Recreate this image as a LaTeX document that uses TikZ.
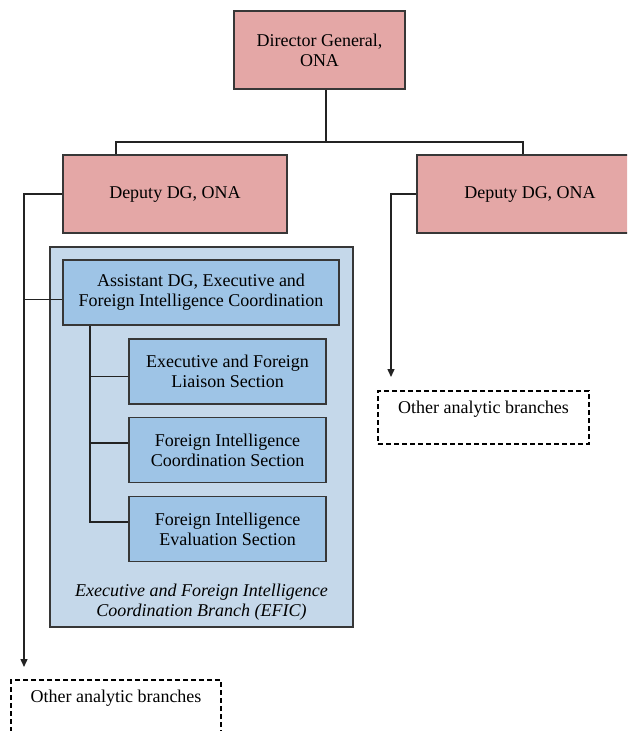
\documentclass[tikz,border=0pt]{standalone}
\usepackage{fontspec}
\setmainfont{Liberation Serif}
\usetikzlibrary{arrows.meta}

\definecolor{dgpink}{RGB}{228,167,166}
\definecolor{secblue}{RGB}{158,196,230}
\definecolor{branchpale}{RGB}{197,216,234}
\definecolor{edgegray}{RGB}{55,55,55}
\definecolor{linegray}{RGB}{35,35,35}

\begin{document}
\begin{tikzpicture}[x=1pt, y=-1pt, line width=1.4pt, line join=miter,
  orgbox/.style={draw=edgegray, line width=1.7pt, inner sep=0pt, align=center,
                 font=\fontsize{18}{20}\selectfont},
  dgbox/.style={orgbox, fill=dgpink},
  secbox/.style={orgbox, fill=secblue, minimum width=197pt, minimum height=65pt},
  otherbox/.style={draw=black, line width=1.2pt, dash pattern=on 5pt off 3pt,
                   inner sep=0pt, minimum width=210pt, text height=22pt, text depth=31pt,
                   font=\fontsize{18}{20}\selectfont}]
  % 箭头头: 实测 宽 7、长 8
  \def\arr{-{Triangle[width=7pt,length=8pt]}}

  % 钉死画布（右侧副局长框与左下虚线框被画布截断）
  \useasboundingbox (0,0) rectangle (627,731);
  \clip (0,0) rectangle (627,731);

  % ════ 局长 / 两位副局长 ════
  \node[dgbox, minimum width=171pt, minimum height=78pt] (dg)   at (319.5,50) {Director General,\\ONA};
  \node[dgbox, minimum width=224pt, minimum height=78pt] (ldep) at (175,194)  {Deputy DG, ONA};
  \node[dgbox, minimum width=226pt, minimum height=78pt] (rdep) at (530,194)  {Deputy DG, ONA};

  % ════ EFIC 分支（浅蓝底框 + 助理局长 + 三个科）════
  \node[orgbox, fill=branchpale, minimum width=303pt, minimum height=380pt] (efic) at (201.5,437) {};
  \node[secbox, minimum width=276pt] (asst)    at (201,292.5)   {Assistant DG, Executive and\\Foreign Intelligence Coordination};
  \node[secbox]                      (exec)    at (227.5,371.5) {Executive and Foreign\\Liaison Section};
  \node[secbox]                      (ficoord) at (227.5,450)   {Foreign Intelligence\\Coordination Section};
  \node[secbox]                      (fieval)  at (227.5,529)   {Foreign Intelligence\\Evaluation Section};
  \node[align=center, inner sep=0pt, font=\itshape\fontsize{18}{20}\selectfont] (eficname) at (201.5,602)
    {Executive and Foreign Intelligence\\Coordination Branch (EFIC)};

  % ════ 其他分析处（虚线框, 文字靠上）════
  \node[otherbox]                    (lother) at (116,706.5)   {Other analytic branches};
  \node[otherbox, minimum width=211pt] (rother) at (483.5,417.5) {Other analytic branches};

  % ════ 连线 ════
  \coordinate (dgfoot) at (326,142);   % 局长竖线落点（不在框中线上）
  \coordinate (lbar)   at (116,142);
  \coordinate (rbar)   at (523,142);
  \coordinate (ltip)   at (24,667);    % 左侧箭头尖
  \coordinate (rtip)   at (391,377);   % 右侧箭头尖
  \coordinate (spine)  at (90,522);    % 科室竖干

  \begin{scope}[draw=linegray]
    \draw (dg.south -| dgfoot) -- (dgfoot);
    \draw (lbar |- ldep.north) -- (lbar) -- (rbar) -- (rbar |- rdep.north);

    \draw[\arr] (ldep.west) -| (ltip);
    \draw (asst.183) -- (asst.183 -| ltip);
    \draw[\arr] (rdep.west) -| (rtip);

    \draw (asst.south -| spine) |- (fieval.176);
    \draw (exec.183 -| spine)    -- (exec.183);
    \draw (ficoord.176 -| spine) -- (ficoord.176);
  \end{scope}
\end{tikzpicture}
\end{document}
